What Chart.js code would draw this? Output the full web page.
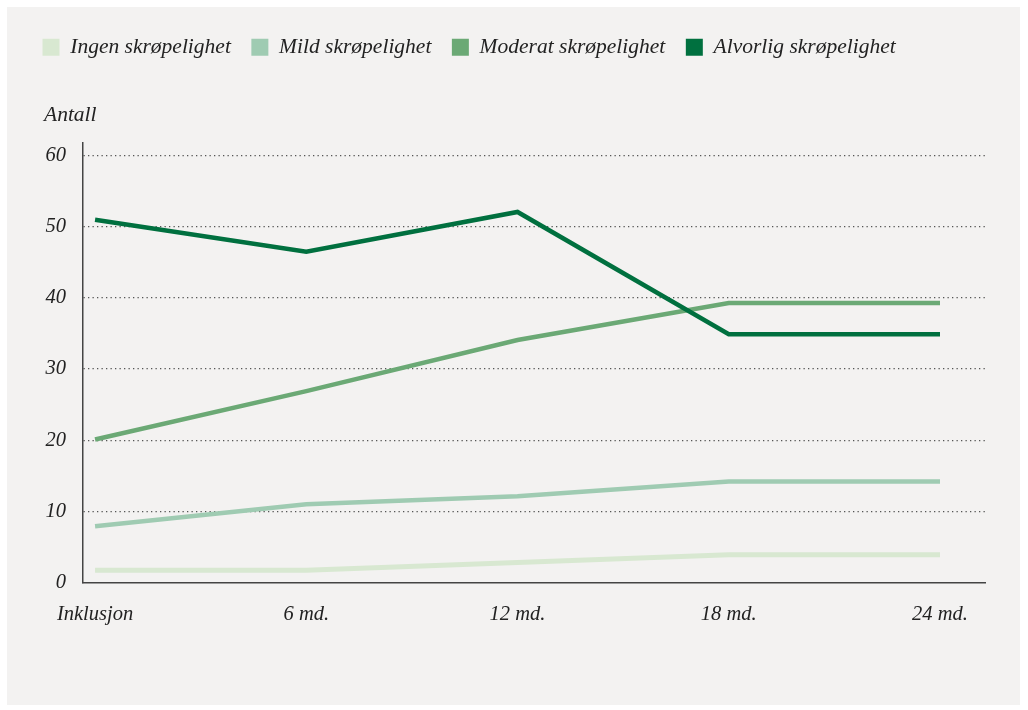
<!DOCTYPE html>
<html>
<head>
<meta charset="utf-8">
<script src="https://cdn.jsdelivr.net/npm/chart.js@4.4.1/dist/chart.umd.min.js"></script>
<style>
  html, body { margin: 0; padding: 0; background: #ffffff; }
  #panel { position: absolute; left: 7px; top: 7px; width: 1013px; height: 698px; background: #f3f2f1; }
  #wrap { position: absolute; left: 0; top: 0; width: 1028px; height: 710px; }
</style>
</head>
<body>
<div id="panel"></div>
<div id="wrap"><canvas id="c" width="1028" height="710"></canvas></div>
<script>
const categories = ["Inklusjon", "6 md.", "12 md.", "18 md.", "24 md."];
const seriesNames = ["Ingen skrøpelighet", "Mild skrøpelighet", "Moderat skrøpelighet", "Alvorlig skrøpelighet"];
const ingen    = [1.7, 1.7, 2.8, 3.9, 3.9];
const mild     = [7.9, 11.0, 12.1, 14.2, 14.2];
const moderat  = [20.1, 26.9, 34.1, 39.3, 39.3];
const alvorlig = [51.0, 46.5, 52.1, 34.9, 34.9];
const yTicks = [0, 10, 20, 30, 40, 50, 60];
const yTitle = "Antall";
const colors = ["#d8e8d1", "#9fcbb2", "#6ba975", "#00703f"];

const FONT = "'Liberation Serif', 'DejaVu Serif', serif";
const allSeries = [ingen, mild, moderat, alvorlig];

const datasets = allSeries.map((vals, s) => ({
  label: seriesNames[s],
  data: vals.map((v, i) => ({ x: i, y: v })),
  borderColor: colors[s],
  backgroundColor: colors[s],
  borderWidth: s === 0 ? 5 : 4.5,
  pointRadius: 0,
  tension: 0,
  order: -s
}));

const CHART_TOP = 143;
const LAYOUT_TOP = 16;

const legendSpace = {
  id: 'legendSpace',
  beforeInit(chart) {
    const origFit = chart.legend.fit;
    chart.legend.fit = function () {
      origFit.call(this);
      this.height = CHART_TOP - LAYOUT_TOP;
    };
  }
};

const axisTitle = {
  id: 'axisTitle',
  afterDraw(chart) {
    const { ctx, chartArea } = chart;
    ctx.save();
    ctx.font = "italic 21.5px " + FONT;
    ctx.fillStyle = '#222222';
    ctx.textAlign = 'left';
    ctx.textBaseline = 'middle';
    ctx.fillText(yTitle, chartArea.left - 39, chartArea.top - 28);
    ctx.restore();
  }
};

new Chart(document.getElementById('c'), {
  type: 'line',
  data: { datasets },
  plugins: [legendSpace, axisTitle],
  options: {
    responsive: false,
    animation: false,
    layout: { padding: { left: 22, right: 43, top: LAYOUT_TOP, bottom: 63 } },
    plugins: {
      legend: {
        position: 'top',
        align: 'start',
        labels: {
          boxWidth: 17,
          boxHeight: 17,
          padding: 20.5,
          color: '#222222',
          font: { family: FONT, size: 21.5, style: 'italic' },
          generateLabels: (chart) => chart.data.datasets.map((d, i) => ({
            text: d.label,
            fillStyle: d.backgroundColor,
            strokeStyle: d.backgroundColor,
            lineWidth: 0,
            hidden: false,
            datasetIndex: i,
            fontColor: '#222222'
          }))
        }
      },
      title: { display: false },
      tooltip: { enabled: false }
    },
    scales: {
      x: {
        type: 'linear',
        min: -0.057,
        max: 4.213,
        afterBuildTicks: (scale) => { scale.ticks = categories.map((c, i) => ({ value: i })); },
        ticks: {
          callback: (v) => categories[v] !== undefined ? categories[v] : '',
          color: '#222222',
          font: { family: FONT, size: 20.5, style: 'italic' },
          padding: 20,
          maxRotation: 0,
          autoSkip: false
        },
        grid: { display: false, drawTicks: false },
        border: { display: true, color: '#444444', width: 1.5 }
      },
      y: {
        min: 0,
        max: 61.8,
        afterBuildTicks: (scale) => { scale.ticks = yTicks.map(v => ({ value: v })); },
        afterFit: (scale) => { scale.width = 61; },
        ticks: {
          includeBounds: false,
          color: '#222222',
          font: { family: FONT, size: 20.5, style: 'italic' },
          padding: 17
        },
        grid: {
          drawTicks: false,
          color: (ctx) => ctx.tick && ctx.tick.value === 0 ? 'rgba(0,0,0,0)' : '#555555',
          lineWidth: 1.3
        },
        border: { display: true, color: '#444444', width: 1.5, dash: [1.3, 3.2] }
      }
    }
  }
});
</script>
</body>
</html>
